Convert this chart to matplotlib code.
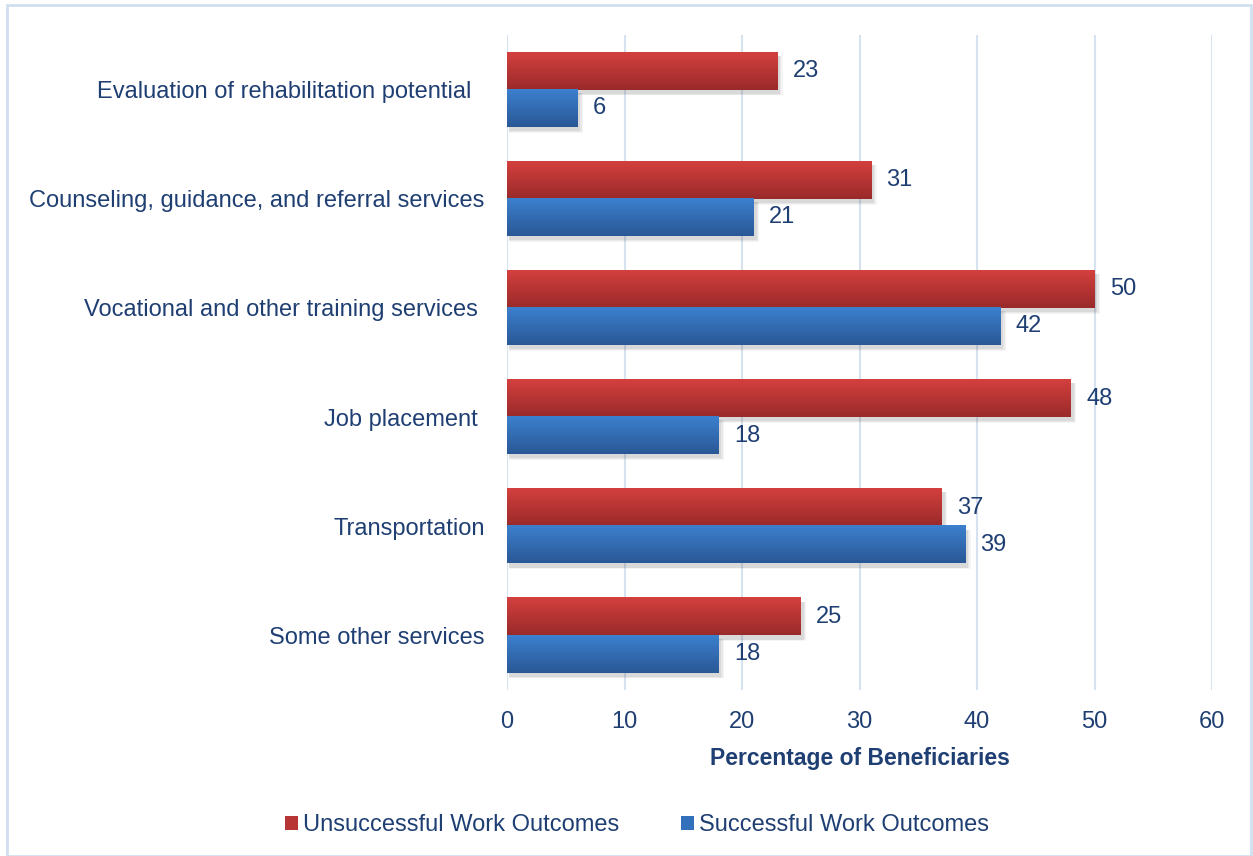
import numpy as np
import matplotlib
matplotlib.use('Agg')
import matplotlib.pyplot as plt
from matplotlib.colors import LinearSegmentedColormap
from matplotlib.patches import Rectangle, Patch

plt.rcParams['font.family'] = ['Liberation Sans', 'DejaVu Sans']

# data
categories = ['Evaluation of rehabilitation potential  ',
              'Counseling, guidance, and referral services',
              'Vocational and other training services ',
              'Job placement ',
              'Transportation',
              'Some other services']
unsuccessful = [23, 31, 50, 48, 37, 25]
successful = [6, 21, 42, 18, 39, 18]
series_names = ['Unsuccessful Work Outcomes', 'Successful Work Outcomes']

text_col = '#1F3F73'
grid_col = '#D6E2F0'
fs = 17
red_cmap = LinearSegmentedColormap.from_list('r', ['#D3403E', '#9A2A2A'])
blue_cmap = LinearSegmentedColormap.from_list('b', ['#3C80CE', '#2A5896'])

fig = plt.figure(figsize=(12.53, 8.56), dpi=100)
ax = fig.add_axes([507 / 1253, 1 - 690 / 856, 705 / 1253, 655 / 856])

h = 0.34
grad = np.linspace(0, 1, 64).reshape(-1, 1)


def draw_bar(ax, val, ytop, cmap):
    # soft shadow to the lower right
    for k, a in [(0.6, 0.06), (0.4, 0.08), (0.2, 0.10)]:
        ax.add_patch(Rectangle((0.15, ytop + 0.03), val + k * 0.5, h + k * 0.04,
                               color='#555555', alpha=a, lw=0, zorder=1))
    ax.imshow(grad, cmap=cmap, aspect='auto', origin='upper',
              extent=(0, val, ytop + h, ytop), zorder=2, interpolation='bilinear')


y = np.arange(len(categories))
for i in range(len(categories)):
    draw_bar(ax, unsuccessful[i], y[i] - h, red_cmap)
    draw_bar(ax, successful[i], y[i], blue_cmap)
    ax.text(unsuccessful[i] + 1.3, y[i] - h / 2, str(unsuccessful[i]),
            va='center', ha='left', fontsize=fs, color=text_col)
    ax.text(successful[i] + 1.3, y[i] + h / 2, str(successful[i]),
            va='center', ha='left', fontsize=fs, color=text_col)

ax.set_xlim(0, 60)
ax.set_ylim(5.5, -0.5)
ax.set_xticks(range(0, 61, 10))
ax.set_yticks(y)
ax.set_yticklabels(categories)
ax.tick_params(axis='both', length=0, labelsize=fs, colors=text_col)
ax.tick_params(axis='y', pad=16)
ax.tick_params(axis='x', pad=15)
ax.xaxis.grid(True, color=grid_col, lw=1.5, zorder=0)
ax.set_axisbelow(True)
for s in ax.spines.values():
    s.set_visible(False)
ax.set_xlabel('Percentage of Beneficiaries', fontsize=fs - 0.5, fontweight='bold',
              color=text_col, labelpad=10)

handles = [Patch(facecolor='#B83535', edgecolor='none'),
           Patch(facecolor='#3370BB', edgecolor='none')]
leg = fig.legend(handles, series_names, loc='center', bbox_to_anchor=(637 / 1253, 1 - 825 / 856),
                 ncol=2, frameon=False, fontsize=fs, handlelength=0.55, handleheight=0.55,
                 handletextpad=0.2, columnspacing=2.6)
for t in leg.get_texts():
    t.set_color(text_col)

# outer border
fig.patches.append(Rectangle((7 / 1253, 0), 1 - 9 / 1253, 1 - 5 / 856, transform=fig.transFigure,
                             fill=False, edgecolor='#D0DFF0', lw=2))

fig.savefig('out.png', dpi=100)
